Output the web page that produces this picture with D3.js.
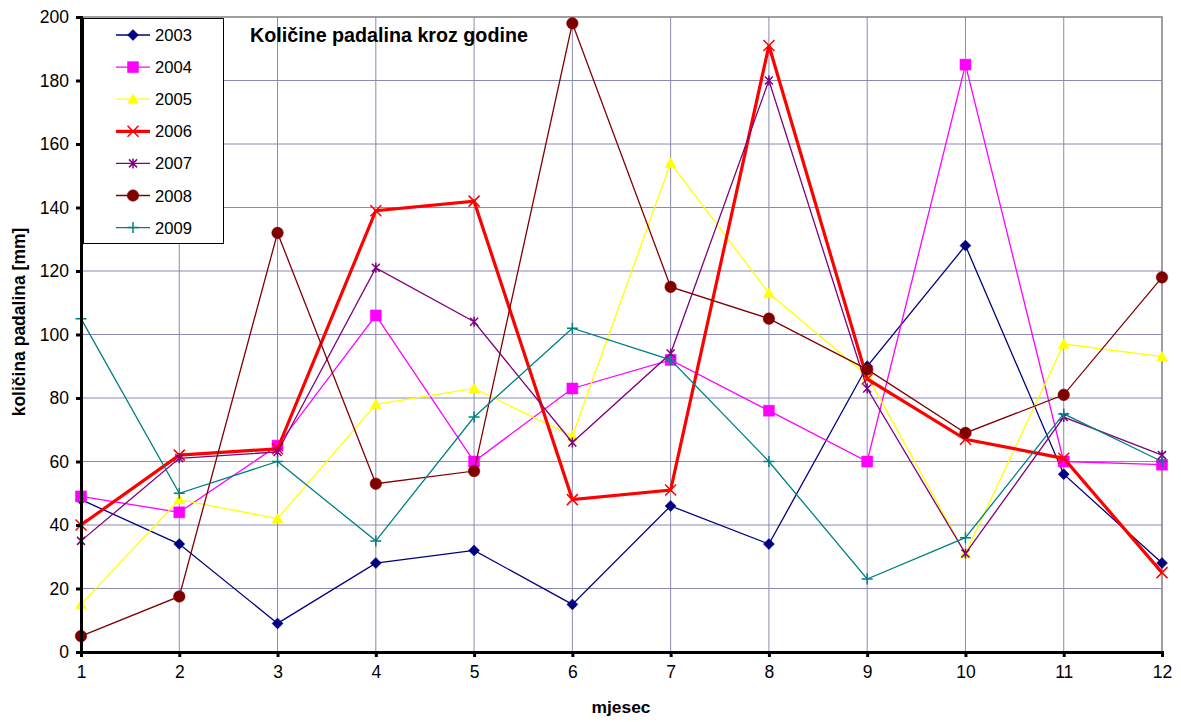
<!DOCTYPE html>
<html><head><meta charset="utf-8">
<script src="https://cdn.jsdelivr.net/npm/d3@7"></script>
<style>body{margin:0;background:#fff}svg{display:block}text{font-family:"Liberation Sans",Arial,sans-serif}</style>
</head><body>
<script>
const months = [1,2,3,4,5,6,7,8,9,10,11,12];
const years = ["2003","2004","2005","2006","2007","2008","2009"];
const v2003 = [48,34,9,28,32,15,46,34,90,128,56,28];
const v2004 = [49,44,65,106,60,83,92,76,60,185,60,59];
const v2005 = [15,48,42,78,83,68,154,113,87,31,97,93];
const v2006 = [40,62,64,139,142,48,51,191,86,67,61,25];
const v2007 = [35,61,63,121,104,66,94,180,83,31,74,62];
const v2008 = [5,17.5,132,53,57,198,115,105,89,69,81,118];
const v2009 = [105,50,60,35,74,102,92,60,23,36,75,60];
const yTicks = [0,20,40,60,80,100,120,140,160,180,200];
const title = "Količine padalina kroz godine";
const xTitle = "mjesec";
const yTitle = "količina padalina [mm]";

const seriesVals = [v2003,v2004,v2005,v2006,v2007,v2008,v2009];
const colors = ["#000080","#FF00FF","#FFFF00","#FF0000","#800080","#800000","#008080"];
const markers = ["diamond","square","triangle","x","star","circle","plus"];
const widths = [1.3,1.3,1.3,3.2,1.3,1.3,1.3];

const W=1181,H=722;
const L=81,R=1162,T=17,B=652;
const svg=d3.select("body").append("svg").attr("width",W).attr("height",H);
const x=d3.scaleLinear().domain([1,12]).range([L,R]);
const y=d3.scaleLinear().domain([0,200]).range([B,T]);

// grid
const grid=svg.append("g");
grid.selectAll("line.h").data(yTicks.filter(d=>d>0&&d<200)).join("line")
  .attr("x1",L).attr("x2",R).attr("y1",d=>y(d)).attr("y2",d=>y(d))
  .attr("stroke","#8a8ab4").attr("stroke-width",1);
grid.selectAll("line.v").data(months.filter(d=>d>1&&d<12)).join("line")
  .attr("y1",T).attr("y2",B).attr("x1",d=>x(d)).attr("x2",d=>x(d))
  .attr("stroke","#8a8ab4").attr("stroke-width",1);
// top/right border
svg.append("path").attr("d",`M${L},${T}H${R}V${B}`).attr("fill","none").attr("stroke","#808080").attr("stroke-width",1.5);

function markerPath(type){
  const s=5.5;
  switch(type){
    case "diamond": return `M0,${-s}L${s},0L0,${s}L${-s},0Z`;
    case "square": return `M${-s},${-s}H${s}V${s}H${-s}Z`;
    case "triangle": return `M0,${-s}L${s},${s*0.8}L${-s},${s*0.8}Z`;
    case "circle": return d3.symbol(d3.symbolCircle, Math.PI*5.8*5.8)();
    case "x": return `M${-s},${-s}L${s},${s}M${-s},${s}L${s},${-s}`;
    case "star": return `M${-4},${-4}L4,4M-4,4L4,-4M0,-5V5`;
    case "plus": return `M${-s},0H${s}M0,${-s}V${s}`;
  }
}
const filled = t => ["diamond","square","triangle","circle"].includes(t);

const line=d3.line().x((d,i)=>x(months[i])).y(d=>y(d));
const plot=svg.append("g");
seriesVals.forEach((vals,si)=>{
  const g=plot.append("g");
  g.append("path").attr("d",line(vals)).attr("fill","none").attr("stroke",colors[si]).attr("stroke-width",widths[si]).attr("stroke-linejoin","miter");
  g.selectAll("path.m").data(vals).join("path").attr("class","m")
    .attr("transform",(d,i)=>`translate(${x(months[i])},${y(d)})`)
    .attr("d",markerPath(markers[si]))
    .attr("fill",filled(markers[si])?colors[si]:"none")
    .attr("stroke",colors[si]).attr("stroke-width",filled(markers[si])?0.5:1.5);
});

// axes
const ax=svg.append("g").attr("transform",`translate(0,${B})`)
  .call(d3.axisBottom(x).tickValues(months).tickFormat(d3.format("d")).tickSize(5).tickPadding(9));
ax.select(".domain").attr("stroke","#000").attr("stroke-width",3);
ax.selectAll(".tick line").attr("stroke","#000").attr("stroke-width",3);
ax.selectAll(".tick text").attr("font-size",17.5).attr("fill","#000").style("font-family","Liberation Sans, Arial");
const ay=svg.append("g").attr("transform",`translate(${L},0)`)
  .call(d3.axisLeft(y).tickValues(yTicks).tickSize(5).tickPadding(7));
ay.select(".domain").attr("stroke","#000").attr("stroke-width",3);
ay.selectAll(".tick line").attr("stroke","#000").attr("stroke-width",3);
ay.selectAll(".tick text").attr("font-size",17.5).attr("fill","#000").style("font-family","Liberation Sans, Arial");

// titles
svg.append("text").attr("x",250).attr("y",42).attr("font-size",19.7).attr("font-weight","bold").text(title);
svg.append("text").attr("x",621).attr("y",713).attr("text-anchor","middle").attr("font-size",17.4).attr("font-weight","bold").text(xTitle);
svg.append("text").attr("transform","translate(24.5,322) rotate(-90)").attr("text-anchor","middle").attr("font-size",17.5).attr("font-weight","bold").text(yTitle);

// legend
const lg=svg.append("g");
lg.append("rect").attr("x",83.5).attr("y",18.5).attr("width",140).attr("height",225).attr("fill","#fff").attr("stroke","#000").attr("stroke-width",1);
years.forEach((yr,i)=>{
  const cy=35+i*32.1;
  lg.append("line").attr("x1",116).attr("x2",150).attr("y1",cy).attr("y2",cy).attr("stroke",colors[i]).attr("stroke-width",widths[i]);
  lg.append("path").attr("transform",`translate(133,${cy})`).attr("d",markerPath(markers[i]))
    .attr("fill",filled(markers[i])?colors[i]:"none").attr("stroke",colors[i]).attr("stroke-width",filled(markers[i])?0.5:1.5);
  lg.append("text").attr("x",155).attr("y",cy+6).attr("font-size",16.6).text(yr);
});
</script>
</body></html>
